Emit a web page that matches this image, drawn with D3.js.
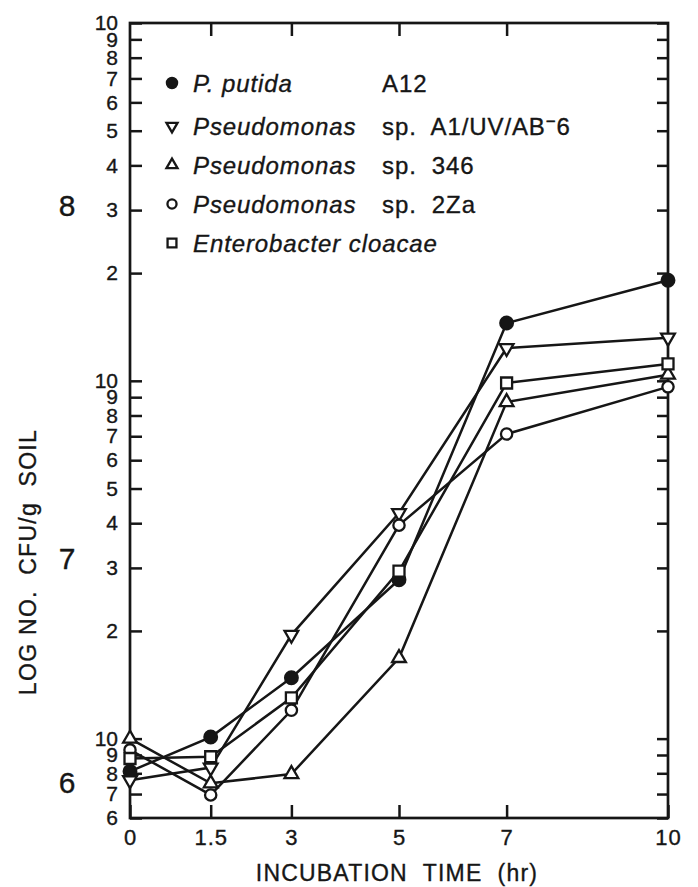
<!DOCTYPE html>
<html>
<head>
<meta charset="utf-8">
<script src="https://cdn.jsdelivr.net/npm/d3@7"></script>
<style>
  body { margin: 0; background: #fff; }
  text { font-family: "Liberation Sans", Arial, Helvetica, sans-serif; fill: #161616; stroke: #161616; stroke-width: 0.35px; }
</style>
</head>
<body>
<svg id="Chart"></svg>
<script>
// Survival of strains in soil (CFU/g soil)
const times = [0, 1.5, 3, 5, 7, 10];

const putida     = [8.1e6, 1.01e7, 1.48e7, 2.78e7, 1.45e8, 1.91e8];
const a1uvab     = [7.65e6, 8.3e6, 1.95e7, 4.27e7, 1.235e8, 1.32e8];
const sp346      = [1.0e7, 7.5e6, 7.96e6, 1.68e7, 8.72e7, 1.04e8];
const sp2Za      = [9.3e6, 6.96e6, 1.2e7, 3.95e7, 7.1e7, 9.62e7];
const enterobac  = [8.8e6, 8.9e6, 1.3e7, 2.94e7, 9.86e7, 1.115e8];

const legendNames   = ["P. putida", "Pseudomonas", "Pseudomonas", "Pseudomonas", "Enterobacter cloacae"];
const legendStrains = ["A12", "sp. A1/UV/AB", "sp. 346", "sp. 2Za", ""];
const symbolKinds   = ["dot", "down", "up", "ring", "square"];

const xTicks = [0, 1.5, 3, 5, 7, 10];
const xInnerTicks = [1.5, 3, 5, 7];
const yTicks = [6e6, 7e6, 8e6, 9e6,
  1e7, 2e7, 3e7, 4e7, 5e7, 6e7, 7e7, 8e7, 9e7,
  1e8, 2e8, 3e8, 4e8, 5e8, 6e8, 7e8, 8e8, 9e8, 1e9];
// big "log" digits drawn beside each decade
const decadeLabels = ["8", "7", "6"];
const decadeAt     = [3.1e8, 3.2e7, 7.55e6];

const WidthTotal = 698;
const HeightTotal = 887;

const svg = d3.select("#Chart")
  .attr("width", WidthTotal)
  .attr("height", HeightTotal);

svg.append("rect").attr("width", WidthTotal).attr("height", HeightTotal).attr("fill", "#fff");

const x = d3.scaleLinear().domain([0, 10]).range([130, 668]);
const y = d3.scaleLog().domain([6e6, 1e9]).range([818, 23]);

const mantissa = v => {
  const m = Math.round(v / Math.pow(10, Math.floor(Math.log10(v) + 1e-9)));
  return m === 1 ? "10" : String(m);
};

// left axis, ticks pointing in
const leftAxis = svg.append("g")
  .attr("transform", `translate(${x(0)},0)`)
  .call(d3.axisLeft(y).tickValues(yTicks).tickSize(-12).tickPadding(12).tickFormat(mantissa));

// right axis, ticks only
const rightAxis = svg.append("g")
  .attr("transform", `translate(${x(10)},0)`)
  .call(d3.axisRight(y).tickValues(yTicks).tickSize(-11).tickFormat(""));

// bottom axis
const bottomAxis = svg.append("g")
  .attr("transform", `translate(0,${y(6e6)})`)
  .call(d3.axisBottom(x).tickValues(xTicks).tickSize(-13).tickPadding(11).tickFormat(d3.format("")));

// top axis, ticks only
const topAxis = svg.append("g")
  .attr("transform", `translate(0,${y(1e9)})`)
  .call(d3.axisTop(x).tickValues(xInnerTicks).tickSize(-13).tickFormat(""));

[leftAxis, rightAxis, bottomAxis, topAxis].forEach(a => {
  a.select(".domain").remove();
  a.selectAll(".tick line").attr("stroke", "#161616").attr("stroke-width", 2.5);
});

leftAxis.selectAll(".tick text")
  .attr("font-size", 21)
  .attr("fill", "#161616")
  .style("font-family", "'Liberation Sans', Arial, sans-serif");

bottomAxis.selectAll(".tick text")
  .attr("font-size", 22)
  .attr("fill", "#161616")
  .style("letter-spacing", "1px")
  .style("font-family", "'Liberation Sans', Arial, sans-serif");

// frame
svg.append("rect")
  .attr("x", x(0)).attr("y", y(1e9))
  .attr("width", x(10) - x(0)).attr("height", y(6e6) - y(1e9))
  .attr("fill", "none")
  .attr("stroke", "#161616")
  .attr("stroke-width", 2.7);

// decade digits
svg.selectAll(".decade")
  .data(decadeLabels)
  .enter()
  .append("text")
    .attr("class", "decade")
    .attr("x", 67)
    .attr("y", (d, i) => y(decadeAt[i]))
    .attr("dy", "0.36em")
    .attr("text-anchor", "middle")
    .attr("font-size", 30)
    .text(d => d);

// axis titles
svg.append("text")
  .attr("transform", "translate(36,562) rotate(-90)")
  .attr("text-anchor", "middle")
  .attr("font-size", 23)
  .style("letter-spacing", "1.3px")
  .style("white-space", "pre")
  .text("LOG NO.  CFU/g  SOIL");

svg.append("text")
  .attr("x", 397)
  .attr("y", 881)
  .attr("text-anchor", "middle")
  .attr("font-size", 23)
  .style("letter-spacing", "1.2px")
  .style("white-space", "pre")
  .text("INCUBATION  TIME  (hr)");

// symbols
const symbolPath = (kind, scale) => {
  if (kind === "dot" || kind === "ring") return d3.symbol(d3.symbolCircle, (kind === "dot" ? 125 : 100) * scale)();
  if (kind === "square") return d3.symbol(d3.symbolSquare, 121 * scale)();
  return d3.symbol(d3.symbolTriangle, 82 * scale)();
};

const drawSymbol = (sel, kind, scale) => {
  sel.append("path")
    .attr("d", symbolPath(kind, scale))
    .attr("transform", kind === "down" ? "rotate(180)" : null)
    .attr("fill", kind === "dot" ? "#161616" : "#fff")
    .attr("stroke", "#161616")
    .attr("stroke-width", 2.3);
};

const allSeries = [putida, a1uvab, sp346, sp2Za, enterobac];

const line = d3.line()
  .x((d, i) => x(times[i]))
  .y(d => y(d));

const plot = svg.append("g");

plot.selectAll(".series")
  .data(allSeries)
  .enter()
  .append("path")
    .attr("class", "series")
    .attr("d", line)
    .attr("fill", "none")
    .attr("stroke", "#161616")
    .attr("stroke-width", 2.5);

allSeries.forEach((s, k) => {
  s.forEach((v, i) => {
    const gp = plot.append("g").attr("transform", `translate(${x(times[i])},${y(v)})`);
    drawSymbol(gp, symbolKinds[k], 1);
  });
});

// legend
const legendY = [83, 126, 165, 204, 243];
const legend = svg.append("g");

legendNames.forEach((name, i) => {
  const row = legend.append("g").attr("transform", `translate(172,${legendY[i]})`);
  drawSymbol(row, symbolKinds[i], 0.65);
  row.append("text")
    .attr("x", 21)
    .attr("dy", "0.36em")
    .attr("font-size", 24)
    .attr("font-style", "italic")
    .style("letter-spacing", "0.9px")
    .text(name);
  if (legendStrains[i]) {
    const t = row.append("text")
      .attr("x", 210)
      .attr("dy", "0.36em")
      .attr("font-size", 24)
      .style("letter-spacing", "0.9px")
      .style("white-space", "pre")
      .text(legendStrains[i].replace("sp. ", "sp.  "));
    if (i === 1) {
      t.append("tspan").attr("dy", -8).attr("font-size", 17).text("\u2212");
      t.append("tspan").attr("dy", 8).text("6");
    }
  }
});
</script>
</body>
</html>
